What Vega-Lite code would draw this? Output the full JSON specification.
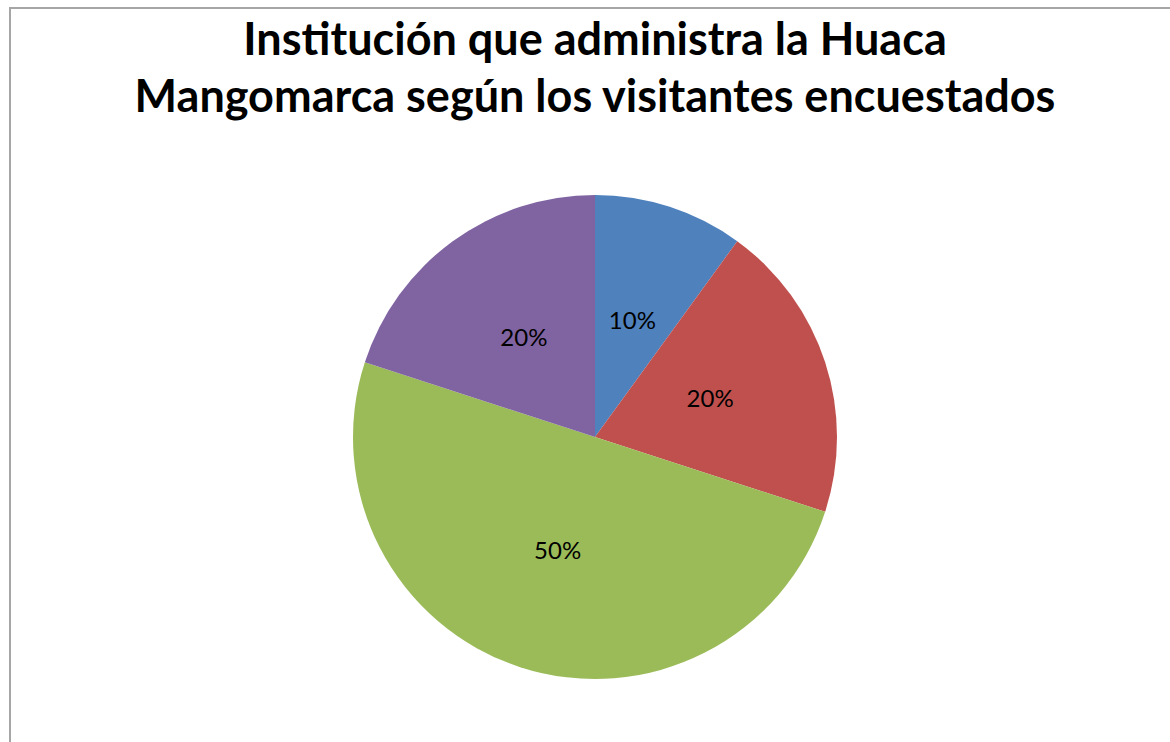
{
  "$schema": "https://vega.github.io/schema/vega-lite/v6.json",
  "width": 1170,
  "height": 858,
  "autosize": {"type": "none"},
  "padding": {"left": 10, "top": 8, "right": 0, "bottom": 0},
  "background": "white",
  "view": {"stroke": "#a6a6a6", "strokeWidth": 2, "fill": "white"},
  "config": {
    "view": {"stroke": "#a6a6a6", "strokeWidth": 2},
    "font": "Lato"
  },
  "title": {
    "text": ["Institución que administra la Huaca", "Mangomarca según los visitantes encuestados"],
    "font": "Lato",
    "fontWeight": "bold",
    "fontSize": 45,
    "lineHeight": 57,
    "color": "#000000",
    "anchor": "middle",
    "frame": "group",
    "orient": "top",
    "offset": -113
  },
  "data": {
    "values": [
      {"categoria": "1", "orden": 1, "valor": 0.1},
      {"categoria": "2", "orden": 2, "valor": 0.2},
      {"categoria": "3", "orden": 3, "valor": 0.5},
      {"categoria": "4", "orden": 4, "valor": 0.2}
    ]
  },
  "encoding": {
    "theta": {"field": "valor", "type": "quantitative", "stack": true},
    "order": {"field": "orden", "type": "quantitative"},
    "color": {
      "field": "categoria",
      "type": "nominal",
      "scale": {"domain": ["1", "2", "3", "4"], "range": ["#4f81bd", "#c0504d", "#9bbb59", "#8064a2"]},
      "legend": null
    }
  },
  "layer": [
    {"mark": {"type": "arc", "outerRadius": 242, "stroke": null}},
    {
      "mark": {"type": "text", "radius": 121, "fontSize": 24, "font": "Lato", "color": "#000000"},
      "encoding": {
        "text": {"field": "valor", "type": "quantitative", "format": ".0%"},
        "color": {"value": "#000000"}
      }
    }
  ]
}
